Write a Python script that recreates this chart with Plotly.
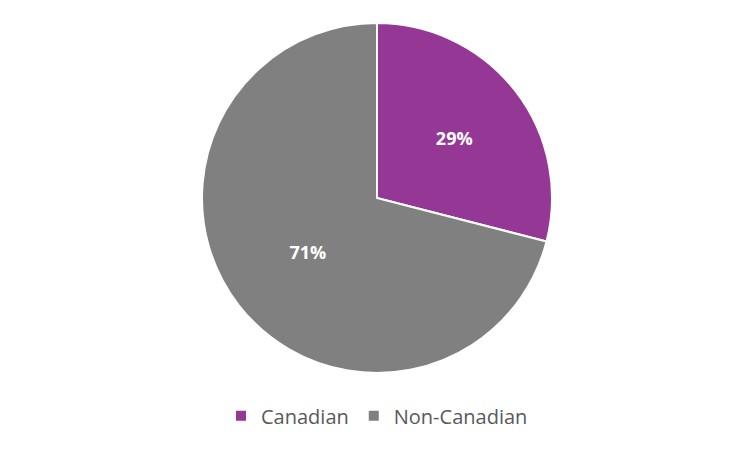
import plotly.graph_objects as go

labels = ["Canadian", "Non-Canadian"]
values = [29, 71]
colors = ["#953795", "#808080"]

fig = go.Figure(go.Pie(
    labels=labels,
    values=values,
    sort=False,
    direction="clockwise",
    rotation=0,
    marker=dict(colors=colors, line=dict(color="white", width=2)),
    textinfo="percent",
    textposition="inside",
    insidetextfont=dict(color="white", size=18, family="Open Sans"),
    texttemplate="<b>%{percent:.0%}</b>",
    hoverinfo="label+percent",
))

fig.update_layout(
    width=752, height=452,
    margin=dict(l=0, r=14, t=15, b=87),
    paper_bgcolor="white",
    showlegend=True,
    legend=dict(
        orientation="h",
        x=0.5, xanchor="center",
        y=-0.122, yanchor="middle",
        font=dict(size=20, color="#595959", family="Open Sans"),
        itemwidth=30,
    ),
)

fig.write_html("out.html")
